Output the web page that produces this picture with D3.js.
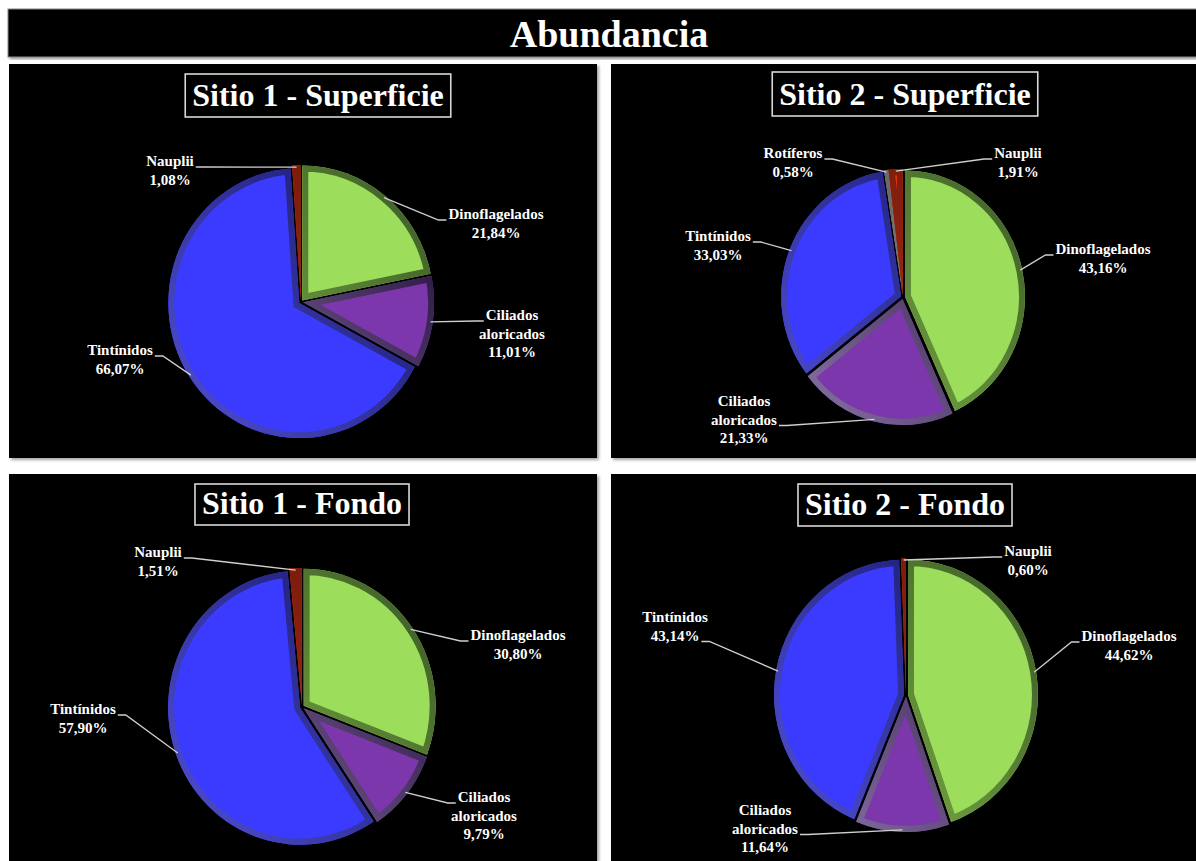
<!DOCTYPE html>
<html>
<head>
<meta charset="utf-8">
<script src="https://cdn.jsdelivr.net/npm/d3@7"></script>
<style>
  html, body { margin: 0; padding: 0; background: #ffffff; }
  svg { display: block; }
  text { font-family: "Liberation Serif", "Times New Roman", serif; font-weight: bold; fill: #ffffff; }
</style>
</head>
<body>
<svg id="chart" width="1196" height="861"></svg>
<script>
// ---------------- DATA ----------------
const chartTitle = "Abundancia";
const categories = ["Dinoflagelados", "Ciliados aloricados", "Tintínidos", "Rotíferos", "Nauplii"];
const panelTitles = ["Sitio 1 - Superficie", "Sitio 2 - Superficie", "Sitio 1 - Fondo", "Sitio 2 - Fondo"];
const sitio1Superficie = [21.84, 11.01, 66.07, 0, 1.08];
const sitio2Superficie = [43.16, 21.33, 33.03, 0.58, 1.91];
const sitio1Fondo      = [30.80, 9.79, 57.90, 0, 1.51];
const sitio2Fondo      = [44.62, 11.64, 43.14, 0, 0.60];
const panelValues = [sitio1Superficie, sitio2Superficie, sitio1Fondo, sitio2Fondo];

// ---------------- STYLE / LAYOUT ----------------
const colors = {
  face:  ["#9cde5c", "#7b37ab", "#3b3bff", "#9a9a9a", "#ec3410"],
  light: ["#86be4e", "#8c78aa", "#4e4ed0", "#b0b0b0", "#c83a1c"],
  dark:  ["#44652a", "#2e1846", "#1a1a70", "#505050", "#6a1508"]
};

const layout = [
  { box: [9, 64, 588, 394], cx: 301, cy: 302, rx: 131, ry: 135, tx: 318, ty: 74, th: 43,
    labels: { 0: [496, 219, 0, "l"], 1: [512, 320, 0, "l"], 2: [120, 355, 0, "r"], 4: [170, 166, 0, "r"] } },
  { box: [611, 64, 590, 394], cx: 903, cy: 297, rx: 120, ry: 126, tx: 905, ty: 72, th: 44,
    labels: { 0: [1103, 254, 0, "l"], 1: [744, 406, 1, "r"], 2: [718, 241, 0, "r"], 3: [793, 158, 0, "r"], 4: [1018, 158, 0, "l"] } },
  { box: [9, 474, 588, 392], cx: 302, cy: 707, rx: 132, ry: 137, tx: 302, ty: 484, th: 41,
    labels: { 0: [518, 640, 0, "l"], 1: [484, 802, 0, "l"], 2: [83, 714, 0, "r"], 4: [158, 557, 0, "r"] } },
  { box: [611, 474, 590, 392], cx: 906, cy: 695, rx: 130, ry: 135, tx: 905, ty: 484, th: 42,
    labels: { 0: [1129, 641, 0, "l"], 1: [765, 815, 1, "r"], 2: [675, 622, 1, "r"], 4: [1028, 556, 0, "l"] } }
];

const lineH = 18.5;
const svg = d3.select("#chart");
const defs = svg.append("defs");

const shadow = defs.append("filter").attr("id", "shadow").attr("x", "-5%").attr("y", "-5%").attr("width", "110%").attr("height", "110%");
shadow.append("feDropShadow").attr("dx", 2).attr("dy", 2).attr("stdDeviation", 1.6).attr("flood-color", "#8a8a8a").attr("flood-opacity", 0.8);

// bevel gradients
categories.forEach((c, i) => {
  const g = defs.append("linearGradient").attr("id", "bev" + i)
    .attr("gradientUnits", "userSpaceOnUse")
    .attr("x1", -120).attr("y1", 120).attr("x2", 120).attr("y2", -60);
  g.append("stop").attr("offset", 0).attr("stop-color", colors.light[i]);
  g.append("stop").attr("offset", 1).attr("stop-color", colors.dark[i]);
});

// ---------------- MAIN TITLE ----------------
svg.append("rect").attr("x", 8).attr("y", 9).attr("width", 1196).attr("height", 48)
  .attr("fill", "#000").attr("stroke", "#8a8a8a").attr("stroke-width", 1).attr("filter", "url(#shadow)");
svg.append("text").attr("x", 609).attr("y", 47).attr("text-anchor", "middle")
  .attr("font-size", 38).text(chartTitle);

const fmt = v => d3.format(".2f")(v).replace(".", ",") + "%";

panelValues.forEach((vals, p) => {
  const L = layout[p];
  const g = svg.append("g");
  g.append("rect").attr("x", L.box[0]).attr("y", L.box[1]).attr("width", L.box[2]).attr("height", L.box[3])
    .attr("fill", "#000").attr("filter", "url(#shadow)");

  // subtitle with box
  const st = g.append("text").attr("x", L.tx).attr("y", L.ty + L.th - 11).attr("text-anchor", "middle")
    .attr("font-size", 32).text(panelTitles[p]);
  const w = st.node().getComputedTextLength();
  g.append("rect").attr("x", L.tx - w / 2 - 7).attr("y", L.ty).attr("width", w + 14).attr("height", L.th)
    .attr("fill", "none").attr("stroke", "#d8d8d8").attr("stroke-width", 1.6);

  // pie
  const items = vals.map((v, i) => ({ v, i })).filter(d => d.v > 0);
  const pie = d3.pie().sort(null).value(d => d.v);
  const arcs = pie(items);
  const arc = d3.arc().innerRadius(0).outerRadius(L.rx);
  const sy = L.ry / L.rx;
  const pg = g.append("g").attr("transform", `translate(${L.cx},${L.cy}) scale(1,${sy})`);

  arcs.forEach((a, k) => {
    const mid = (a.startAngle + a.endAngle) / 2;
    const ex = 2 * Math.sin(mid), ey = -2 * Math.cos(mid);
    const sg = pg.append("g").attr("transform", `translate(${ex},${ey})`);
    const d = arc(a);
    const cid = `clip-${p}-${k}`;
    sg.append("clipPath").attr("id", cid).append("path").attr("d", d);
    sg.append("path").attr("d", d).attr("fill", colors.face[a.data.i]);
    sg.append("path").attr("d", d).attr("fill", "none")
      .attr("stroke", `url(#bev${a.data.i})`).attr("stroke-width", 12)
      .attr("stroke-linejoin", "miter")
      .attr("clip-path", `url(#${cid})`);
  });

  // labels + leaders
  arcs.forEach(a => {
    const ci = a.data.i;
    const spec = L.labels[ci];
    if (!spec) return;
    const [lx, ly, attach, side] = spec;
    const name = categories[ci];
    const lines = name === "Ciliados aloricados" ? ["Ciliados", "aloricados"] : [name];
    lines.push(fmt(a.data.v));
    const tg = g.append("g");
    let attW = 0;
    lines.forEach((t, j) => {
      const te = tg.append("text").attr("x", lx).attr("y", ly + j * lineH).attr("text-anchor", "middle")
        .attr("font-size", 15).text(t);
      if (j === attach) attW = te.node().getComputedTextLength();
    });
    const mid = (a.startAngle + a.endAngle) / 2;
    const px = L.cx + L.rx * Math.sin(mid);
    const py = L.cy - L.ry * Math.cos(mid);
    const ey = ly + attach * lineH + 1;
    const exX = side === "l" ? lx - attW / 2 - 2 : lx + attW / 2 + 2;
    const kx = side === "l" ? exX - 8 : exX + 8;
    g.append("path").attr("d", d3.line()([[px, py], [kx, ey], [exX, ey]]))
      .attr("fill", "none").attr("stroke", "#cfcfcf").attr("stroke-width", 1.3);
  });
});
</script>
</body>
</html>
